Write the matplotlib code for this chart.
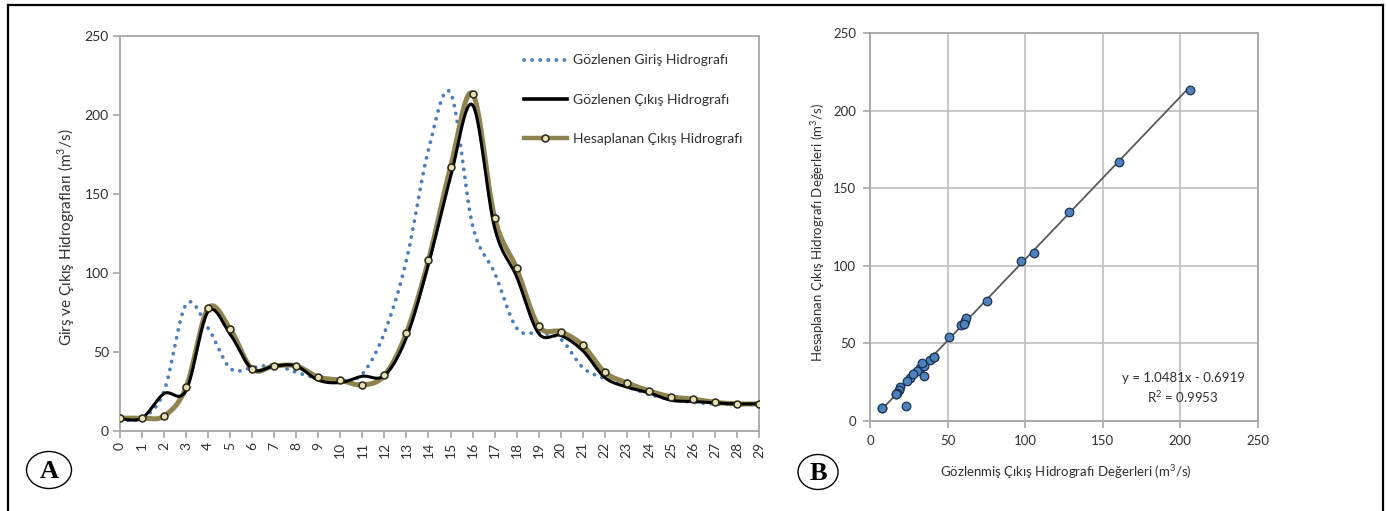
import numpy as np
import matplotlib
matplotlib.use("Agg")
import matplotlib.pyplot as plt
from matplotlib.patches import Ellipse
from matplotlib.lines import Line2D

# ---------------- data ----------------
hours = list(range(30))
inflow = [7, 8, 25, 80, 65, 39.5, 40, 41.5, 37, 33, 31, 36, 62, 108, 178,
          214, 130, 100, 65, 62, 58, 40, 33, 28, 23, 20, 18, 17, 16.5, 16.5]
observed = [7.5, 8, 23.5, 25.5, 75.5, 61, 39, 41, 41, 32, 30.5, 34.5, 35, 59, 105.5,
            160.5, 206.3, 128.5, 97.5, 61.6, 60.3, 50.7, 33.7, 27.7, 24, 19.3, 18.5, 17.6, 17, 17]
computed = [8, 8, 9.3, 27.5, 77.5, 64.4, 39, 41, 41, 34, 32, 29, 35, 62, 108,
            167, 213.5, 135, 102.8, 66.3, 62.7, 54.2, 37, 30.4, 25.3, 21.5, 20, 18, 17, 17]
legend_labels = ["Gözlenen Giriş Hidrografı", "Gözlenen Çıkış Hidrografı",
                 "Hesaplanan Çıkış Hidrografı"]
trend_slope = 1.0481
trend_intercept = -0.6919
trend_text = "y = 1.0481x - 0.6919"
r2_text = "R$^2$ = 0.9953"
ylabel_a = "Girş ve Çıkış Hidrografları (m$^3$/s)"
ylabel_b = "Hesaplanan Çıkış Hidrografı Değerleri (m$^3$/s)"
xlabel_b = "Gözlenmiş Çıkış Hidrografı Değerleri (m$^3$/s)"

plt.rcParams['font.family'] = ['Lato', 'DejaVu Sans']
plt.rcParams['mathtext.fontset'] = 'custom'
plt.rcParams['mathtext.rm'] = 'Lato'

W, H = 1387, 511
fig = plt.figure(figsize=(W / 100, H / 100), dpi=100)


def fx(px):
    return px / W


def fy(py):
    return 1 - py / H


def smooth(x, y, n=24):
    """Excel-like smoothed line (Bezier through the points)."""
    x = np.asarray(x, float)
    y = np.asarray(y, float)
    N = len(x)
    xs, ys = [], []
    for i in range(N - 1):
        p0 = i - 1 if i > 0 else i
        p3 = i + 2 if i + 2 < N else i + 1
        c1x = x[i] + (x[i + 1] - x[p0]) / 6
        c1y = y[i] + (y[i + 1] - y[p0]) / 6
        c2x = x[i + 1] - (x[p3] - x[i]) / 6
        c2y = y[i + 1] - (y[p3] - y[i]) / 6
        t = np.linspace(0, 1, n, endpoint=(i == N - 2))
        a, b, c, d = (1 - t) ** 3, 3 * (1 - t) ** 2 * t, 3 * (1 - t) * t ** 2, t ** 3
        xs.append(a * x[i] + b * c1x + c * c2x + d * x[i + 1])
        ys.append(a * y[i] + b * c1y + c * c2y + d * y[i + 1])
    return np.concatenate(xs), np.concatenate(ys)


GRAY = '#a6a6a6'
TXT = '#303030'
BLUE = '#4a7ebb'
KHAKI = '#8f8350'
BLACK = '#000000'
DOTS = (0, (0.05, 2.1))

# ---------------- panel A ----------------
ax1 = fig.add_axes([fx(120), fy(430.7), fx(759) - fx(120), fy(36) - fy(430.7)])
sx, sy = smooth(hours, inflow)
ax1.plot(sx, sy, color=BLUE, lw=2.7, linestyle=DOTS,
         dash_capstyle='round', zorder=2)
sx, sy = smooth(hours, computed)
ax1.plot(sx, sy, color=KHAKI, lw=3.6, zorder=3, solid_capstyle='round')
sx, sy = smooth(hours, observed)
ax1.plot(sx, sy, color=BLACK, lw=2.2, zorder=4)
ax1.plot(hours, computed, linestyle='none', marker='o', ms=5,
         mfc='#e6dfb8', mec='#2b2716', mew=1.1, zorder=5)

ax1.set_xlim(0, 29)
ax1.set_ylim(0, 250)
ax1.set_xticks(hours)
ax1.set_xticklabels([str(h) for h in hours], rotation=90)
ax1.set_yticks(range(0, 251, 50))
for s in ax1.spines.values():
    s.set_color(GRAY)
    s.set_linewidth(1.3)
ax1.tick_params(direction='out', length=5, width=1.2, color=GRAY,
                labelsize=10, labelcolor=TXT, pad=3)

handles = [
    Line2D([], [], color=BLUE, lw=2.7, linestyle=DOTS, dash_capstyle='round'),
    Line2D([], [], color=BLACK, lw=2.6),
    Line2D([], [], color=KHAKI, lw=3.2, marker='o', ms=5, mfc='#e6dfb8',
           mec='#2b2716', mew=1.1, markevery=[1]),
]
leg = ax1.legend(handles, legend_labels, loc='upper left',
                 bbox_to_anchor=(fx(511), fy(42)), bbox_transform=fig.transFigure,
                 frameon=False, fontsize=10, handlelength=3.1, handletextpad=0.45,
                 labelspacing=1.95, borderpad=0.4)
for t in leg.get_texts():
    t.set_color(TXT)

fig.text(fx(66), fy(237), ylabel_a, rotation=90, ha='center', va='center',
         fontsize=11, color=TXT)

# ---------------- panel B ----------------
ax2 = fig.add_axes([fx(870), fy(420.7), fx(1257.7) - fx(870), fy(33.3) - fy(420.7)])
xx = np.array([min(observed), max(observed)])
ax2.plot(xx, trend_slope * xx + trend_intercept, color='#595959', lw=1.3, zorder=2)
ax2.scatter(observed, computed, s=38, c='#4f81bd', edgecolors='#1b3354',
            linewidths=0.9, zorder=3)
ax2.set_xlim(0, 250)
ax2.set_ylim(0, 250)
ax2.set_xticks(range(0, 251, 50))
ax2.set_yticks(range(0, 251, 50))
ax2.grid(True, color='#bfbfbf', lw=1.2)
ax2.set_axisbelow(True)
for s in ax2.spines.values():
    s.set_color(GRAY)
    s.set_linewidth(1.3)
ax2.tick_params(direction='out', length=5, width=1.2, color=GRAY,
                labelsize=9.5, labelcolor=TXT, pad=5)

fig.text(fx(1183), fy(378), trend_text, ha='center', va='center', fontsize=9.5, color=TXT)
fig.text(fx(1183), fy(397), r2_text, ha='center', va='center', fontsize=9.5, color=TXT)
fig.text(fx(818), fy(232), ylabel_b, rotation=90, ha='center', va='center',
         fontsize=9.5, color=TXT)
fig.text(fx(1066), fy(472), xlabel_b, ha='center', va='center', fontsize=9.5, color=TXT)

# ---------------- panel labels & frame ----------------
for cx, cy, w, h, lab in [(49, 470, 45, 37, 'A'), (818, 472, 40, 35, 'B')]:
    fig.add_artist(Ellipse((fx(cx), fy(cy)), fx(w), h / H, transform=fig.transFigure,
                           fill=False, ec='black', lw=1.0))
    fig.text(fx(cx), fy(cy + 1), lab, ha='center', va='center', fontsize=19,
             fontweight='bold', family='Liberation Serif', color='black')

frame_kw = dict(color='black', lw=1.6, transform=fig.transFigure)
fig.add_artist(Line2D([fx(8), fx(1383)], [fy(5), fy(5)], **frame_kw))
fig.add_artist(Line2D([fx(8), fx(8)], [fy(5), 0], **frame_kw))
fig.add_artist(Line2D([fx(1383), fx(1383)], [fy(5), 0], **frame_kw))

fig.savefig("out.png", dpi=100)
